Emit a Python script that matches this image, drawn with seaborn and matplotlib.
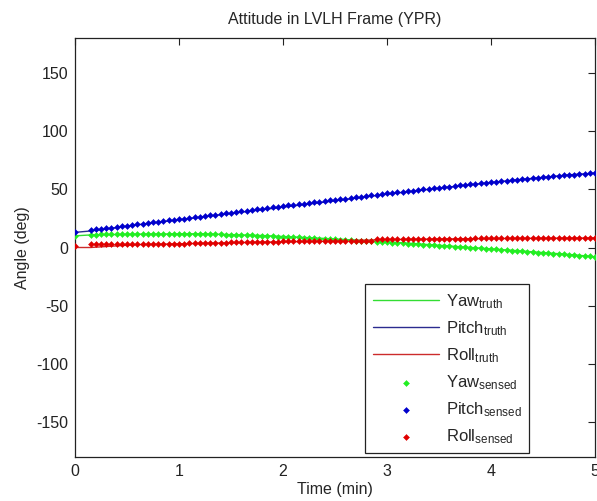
import numpy as np
import pandas as pd
import matplotlib
matplotlib.use("Agg")
import matplotlib.pyplot as plt
import seaborn as sns

# ---------------- data ----------------
truth_time = [0.0, 0.15, 0.6, 1.2, 1.8, 2.4, 3.0, 3.6, 4.2, 4.8, 5.0]
yaw_truth = [10.0, 10.8, 11.5, 11.8, 10.3, 7.8, 4.9, 1.3, -2.4, -6.3, -8.0]
pitch_truth = [13.0, 14.2, 19.5, 26.0, 32.5, 39.0, 45.8, 52.0, 57.7, 62.8, 63.8]
roll_truth = [0.0, 0.0, 2.5, 3.5, 4.6, 5.4, 6.8, 7.4, 7.8, 8.1, 8.2]

sensed_time = np.round(np.concatenate([[0.0], np.arange(0.15, 5.0001, 0.05)]), 2)

pitch_sensed = [13.0,
    15.0, 15.5, 16.1, 16.6, 17.1, 17.7, 18.2, 18.8, 19.3, 19.9,
    20.4, 21.0, 21.6, 22.1, 22.7, 23.2, 23.8, 24.4, 24.9, 25.5,
    26.0, 26.6, 27.2, 27.7, 28.3, 28.8, 29.4, 30.0, 30.5, 31.1,
    31.6, 32.2, 32.8, 33.3, 33.9, 34.4, 35.0, 35.5, 36.1, 36.6,
    37.2, 37.7, 38.3, 38.8, 39.4, 39.9, 40.5, 41.0, 41.6, 42.1,
    42.7, 43.2, 43.7, 44.3, 44.8, 45.3, 45.9, 46.4, 46.9, 47.4,
    47.9, 48.4, 48.9, 49.4, 49.9, 50.4, 50.9, 51.4, 51.9, 52.4,
    52.8, 53.3, 53.8, 54.2, 54.7, 55.2, 55.6, 56.1, 56.5, 57.0,
    57.4, 57.8, 58.3, 58.7, 59.1, 59.5, 59.9, 60.3, 60.7, 61.1,
    61.5, 61.9, 62.2, 62.6, 63.0, 63.3, 63.6, 64.0]

yaw_sensed = [10.0,
    11.0, 11.1, 11.2, 11.3, 11.4, 11.5, 11.5, 11.6, 11.7, 11.7,
    11.8, 11.8, 11.9, 11.9, 11.9, 12.0, 12.0, 12.0, 11.9, 11.9,
    11.8, 11.7, 11.6, 11.5, 11.4, 11.3, 11.1, 11.0, 10.9, 10.7,
    10.5, 10.4, 10.2, 10.0, 9.8, 9.6, 9.4, 9.2, 9.0, 8.8,
    8.6, 8.4, 8.2, 8.0, 7.7, 7.5, 7.3, 7.0, 6.8, 6.5,
    6.3, 6.0, 5.8, 5.5, 5.3, 5.0, 4.7, 4.5, 4.2, 3.9,
    3.7, 3.4, 3.1, 2.8, 2.5, 2.2, 1.9, 1.6, 1.3, 1.0,
    0.7, 0.4, 0.1, -0.2, -0.5, -0.8, -1.1, -1.4, -1.7, -2.0,
    -2.3, -2.7, -3.0, -3.3, -3.6, -4.0, -4.3, -4.6, -5.0, -5.3,
    -5.6, -6.0, -6.3, -6.6, -7.0, -7.3, -7.6, -8.0]

roll_sensed = [1.0,
    2.8, 2.8, 2.9, 2.9, 2.9, 3.0, 3.0, 3.0, 3.0, 3.1,
    3.1, 3.1, 3.2, 3.2, 3.2, 3.3, 3.3, 3.4, 3.4, 3.5,
    3.6, 3.7, 3.8, 3.9, 4.0, 4.1, 4.2, 4.3, 4.4, 4.5,
    4.6, 4.7, 4.8, 4.9, 5.0, 5.0, 5.1, 5.2, 5.2, 5.3,
    5.3, 5.4, 5.4, 5.5, 5.5, 5.6, 5.6, 5.7, 5.7, 5.8,
    5.8, 5.8, 5.9, 5.9, 6.0, 7.0, 7.1, 7.1, 7.2, 7.2,
    7.3, 7.3, 7.3, 7.4, 7.4, 7.5, 7.5, 7.5, 7.6, 7.6,
    7.6, 7.7, 7.7, 7.7, 7.8, 7.8, 7.8, 7.8, 7.9, 7.9,
    7.9, 7.9, 8.0, 8.0, 8.0, 8.0, 8.0, 8.1, 8.1, 8.1,
    8.1, 8.1, 8.1, 8.2, 8.2, 8.2, 8.2, 8.2]

x_ticks = [0, 1, 2, 3, 4, 5]
y_ticks = [-150, -100, -50, 0, 50, 100, 150]

# ---------------- style ----------------
sns.set_style("white")
plt.rcParams["font.family"] = ["Liberation Sans", "DejaVu Sans"]
plt.rcParams["mathtext.fontset"] = "custom"
plt.rcParams["mathtext.rm"] = "Liberation Sans"
plt.rcParams["mathtext.it"] = "Liberation Sans"
plt.rcParams["mathtext.default"] = "rm"
plt.rcParams["axes.unicode_minus"] = False

fig = plt.figure(figsize=(5.97, 5.01), dpi=100)
ax = fig.add_axes([75 / 597, 44 / 501, 520 / 597, 419 / 501])

truth_df = pd.DataFrame({"t": truth_time, "yaw": yaw_truth,
                         "pitch": pitch_truth, "roll": roll_truth})
sensed_df = pd.DataFrame({"t": sensed_time, "yaw": yaw_sensed,
                          "pitch": pitch_sensed, "roll": roll_sensed})

line_cols = {"yaw": "#33dd33", "pitch": "#2b2b8f", "roll": "#cc2b2b"}
dot_cols = {"yaw": "#22ee22", "pitch": "#0000cc", "roll": "#e00000"}
names = {"yaw": "Yaw", "pitch": "Pitch", "roll": "Roll"}

for k in ["yaw", "pitch", "roll"]:
    sns.lineplot(data=truth_df, x="t", y=k, ax=ax, color=line_cols[k],
                 linewidth=1.0,
                 label=names[k] + r"$_{\mathrm{truth}}$")
for k in ["yaw", "pitch", "roll"]:
    sns.scatterplot(data=sensed_df, x="t", y=k, ax=ax, color=dot_cols[k],
                    marker="D", s=9, linewidth=0.4, edgecolor=dot_cols[k],
                    label=names[k] + r"$_{\mathrm{sensed}}$", zorder=3)

ax.set_xlim(0, 5)
ax.set_ylim(-180, 180)
ax.set_xticks(x_ticks)
ax.set_yticks(y_ticks)
ax.tick_params(direction="in", length=5, width=0.8, labelsize=11.5,
               top=True, right=True, colors="#222222", pad=5)
for sp in ax.spines.values():
    sp.set_color("#222222")
    sp.set_linewidth(0.9)

ax.set_title("Attitude in LVLH Frame (YPR)", fontsize=11.5, pad=10)
ax.set_xlabel("Time (min)", fontsize=11.5, labelpad=2)
ax.set_ylabel("Angle (deg)", fontsize=11.5, labelpad=4)

leg = ax.legend(loc="lower left", bbox_to_anchor=(0.558, 0.009),
                borderaxespad=0.0,
                fontsize=12, frameon=True, fancybox=False, framealpha=1,
                edgecolor="#222222", handlelength=4.0, handletextpad=0.4,
                labelspacing=0.5, borderpad=0.45, markerscale=1.0)
leg.get_frame().set_linewidth(0.9)

fig.savefig("out.png", dpi=100)
